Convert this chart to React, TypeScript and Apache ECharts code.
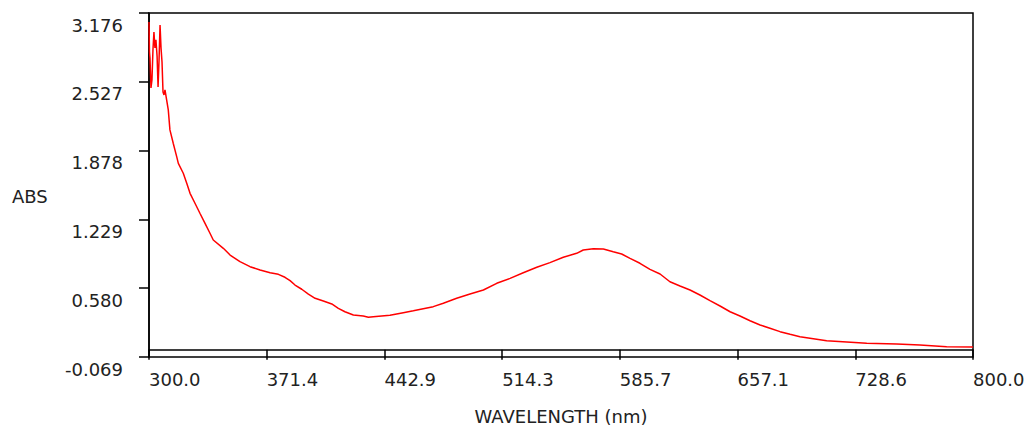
import React, { useEffect, useRef } from "react";
import * as echarts from "echarts";

const wavelengths: number[] = [
  300.0, 300.3, 300.6, 301.2, 301.8, 302.4, 303.0, 303.6, 304.2, 304.9, 305.5, 306.1, 306.7, 307.3, 307.9, 308.5, 309.1,
  309.7, 310.7, 311.7, 312.7, 314.7, 316.8, 317.8, 320.8, 322.9, 324.9, 327.9, 330.9, 334.0, 337.0, 339.0, 345.1, 349.2,
  355.2, 361.3, 367.4, 373.5, 378.5, 382.5, 385.6, 388.6, 392.7, 396.7, 400.8, 405.8, 410.9, 414.9, 418.9, 424.0, 430.0,
  433.1, 436.1, 446.2, 454.3, 460.4, 466.4, 472.5, 478.6, 486.7, 494.8, 502.9, 511.0, 519.1, 527.1, 535.3, 543.3, 551.4,
  559.5, 563.5, 569.6, 575.7, 581.7, 586.8, 591.9, 597.9, 604.0, 610.1, 616.1, 622.2, 628.3, 634.3, 640.4, 646.5, 652.6,
  658.6, 664.7, 670.8, 676.8, 682.9, 689.0, 695.0, 703.1, 711.2, 723.4, 735.5, 753.7, 767.8, 784.0, 800.0,
];

const absorbance: number[] = [
  3.091, 2.808, 2.752, 2.469, 2.544, 2.827, 2.997, 2.846, 2.922, 2.771, 2.478, 2.733, 3.063, 2.846, 2.714, 2.431, 2.403,
  2.450, 2.356, 2.262, 2.073, 1.947, 1.821, 1.758, 1.664, 1.570, 1.475, 1.381, 1.287, 1.192, 1.098, 1.035, 0.956, 0.893,
  0.830, 0.783, 0.752, 0.726, 0.711, 0.683, 0.651, 0.610, 0.570, 0.525, 0.485, 0.459, 0.431, 0.390, 0.358, 0.327, 0.318,
  0.306, 0.311, 0.324, 0.349, 0.368, 0.387, 0.406, 0.438, 0.485, 0.525, 0.563, 0.626, 0.673, 0.726, 0.777, 0.821, 0.872,
  0.909, 0.940, 0.953, 0.950, 0.924, 0.903, 0.862, 0.815, 0.758, 0.714, 0.641, 0.601, 0.563, 0.516, 0.462, 0.412, 0.358,
  0.318, 0.273, 0.233, 0.202, 0.170, 0.145, 0.123, 0.104, 0.085, 0.073, 0.060, 0.054, 0.044, 0.028, 0.025,
];

const xTicks: number[] = [300.0, 371.4, 442.9, 514.3, 585.7, 657.1, 728.6, 800.0];
const yTicks: number[] = [-0.069, 0.58, 1.229, 1.878, 2.527, 3.176];

const FONT = "DejaVu Sans";

export default function App() {
  const ref = useRef<HTMLDivElement>(null);
  useEffect(() => {
    if (!ref.current) return;
    const chart = echarts.init(ref.current, undefined, { renderer: "svg" });
    const data = wavelengths.map((w, i) => [w, absorbance[i]]);
    chart.setOption({
      animation: false,
      backgroundColor: "#fff",
      grid: {
        left: 149,
        right: 56,
        top: 13,
        bottom: 73,
        show: true,
        borderColor: "#000",
        borderWidth: 1.5,
      },
      xAxis: {
        type: "value",
        min: 300,
        max: 800,
        name: "WAVELENGTH (nm)",
        nameLocation: "middle",
        nameGap: 50,
        nameTextStyle: { fontFamily: FONT, fontSize: 18, color: "#222" },
        axisLine: { show: true, lineStyle: { color: "#000", width: 1.5 } },
        axisTick: { show: true, inside: false, length: 10, lineStyle: { color: "#000", width: 1.5 }, customValues: xTicks },
        axisLabel: {
          customValues: xTicks,
          formatter: (v: number) => v.toFixed(1),
          fontFamily: FONT,
          fontSize: 18,
          color: "#222",
          align: "left",
          margin: 13,
        },
        splitLine: { show: false },
      },
      yAxis: {
        type: "value",
        min: -0.069,
        max: 3.176,
        axisLine: { show: true, lineStyle: { color: "#000", width: 1.5 } },
        axisTick: { show: true, inside: false, length: 10, lineStyle: { color: "#000", width: 1.5 }, customValues: yTicks },
        axisLabel: {
          customValues: yTicks,
          formatter: (v: number) => v.toFixed(3),
          fontFamily: FONT,
          fontSize: 18,
          color: "#222",
          margin: 26,
          verticalAlign: "top",
          lineHeight: 24,
        },
        splitLine: { show: false },
      },
      graphic: [
        {
          type: "text",
          left: 12,
          top: 187,
          style: { text: "ABS", fontFamily: FONT, fontSize: 18, fill: "#222" },
        },
      ],
      series: [
        {
          type: "line",
          data,
          showSymbol: false,
          symbol: "none",
          lineStyle: { color: "#ff0000", width: 1.5 },
          clip: true,
        },
      ],
    });
    return () => chart.dispose();
  }, []);
  return (
    <div
      ref={ref}
      style={{ position: "fixed", left: 0, top: 0, width: 1029, height: 430 }}
    />
  );
}
